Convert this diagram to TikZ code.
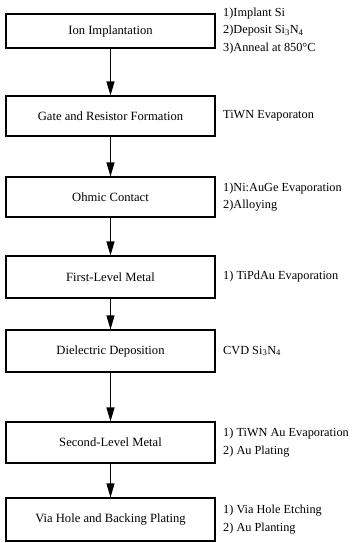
\documentclass[tikz,border=0pt]{standalone}
\usepackage{fontspec}
\setmainfont{Liberation Serif}
\usetikzlibrary{arrows.meta}
\begin{document}
\begin{tikzpicture}[x=1pt,y=-1pt,
  stepbox/.style={draw, line width=1.1pt, minimum width=209pt, inner sep=0pt, font=\fontsize{12.6}{14}\selectfont},
  note/.style={anchor=west, align=left, inner sep=0pt, font=\fontsize{12.3}{17.5}\selectfont},
  flow/.style={-{Triangle[length=14pt,width=8pt]}, line width=1.1pt}]
\useasboundingbox (0,0) rectangle (352,543);
\node[stepbox, minimum height=34pt] (b1) at (110.5,31) {Ion Implantation};
\node[stepbox, minimum height=40pt] (b2) at (110.5,116) {Gate and Resistor Formation};
\node[stepbox, minimum height=40pt] (b3) at (110.5,197) {Ohmic Contact};
\node[stepbox, minimum height=42pt] (b4) at (110.5,277) {First-Level Metal};
\node[stepbox, minimum height=42pt] (b5) at (110.5,351) {Dielectric Deposition};
\node[stepbox, minimum height=41pt] (b6) at (110.5,442.5) {Second-Level Metal};
\node[stepbox, minimum height=43pt] (b7) at (110.5,519.5) {Via Hole and Backing Plating};
\draw[flow] (b1) -- (b2);
\draw[flow] (b2) -- (b3);
\draw[flow] (b3) -- (b4);
\draw[flow] (b4) -- (b5);
\draw[flow] (b5) -- (b6);
\draw[flow] (b6) -- (b7);
\node[note] (n1) at (223,31) {1)Implant Si\\2)Deposit Si\textsubscript{3}N\textsubscript{4}\\3)Anneal at 850°C};
\node[note] (n2) at (223,116) {TiWN Evaporaton};
\node[note] (n3) at (223,197) {1)Ni:AuGe Evaporation\\2)Alloying};
\node[note] (n4) at (223,277) {1) TiPdAu Evaporation};
\node[note] (n5) at (223,351) {CVD Si\textsubscript{3}N\textsubscript{4}};
\node[note] (n6) at (223,442.5) {1) TiWN Au Evaporation\\2) Au Plating};
\node[note] (n7) at (223,519.5) {1) Via Hole Etching\\2) Au Planting};
\end{tikzpicture}
\end{document}
